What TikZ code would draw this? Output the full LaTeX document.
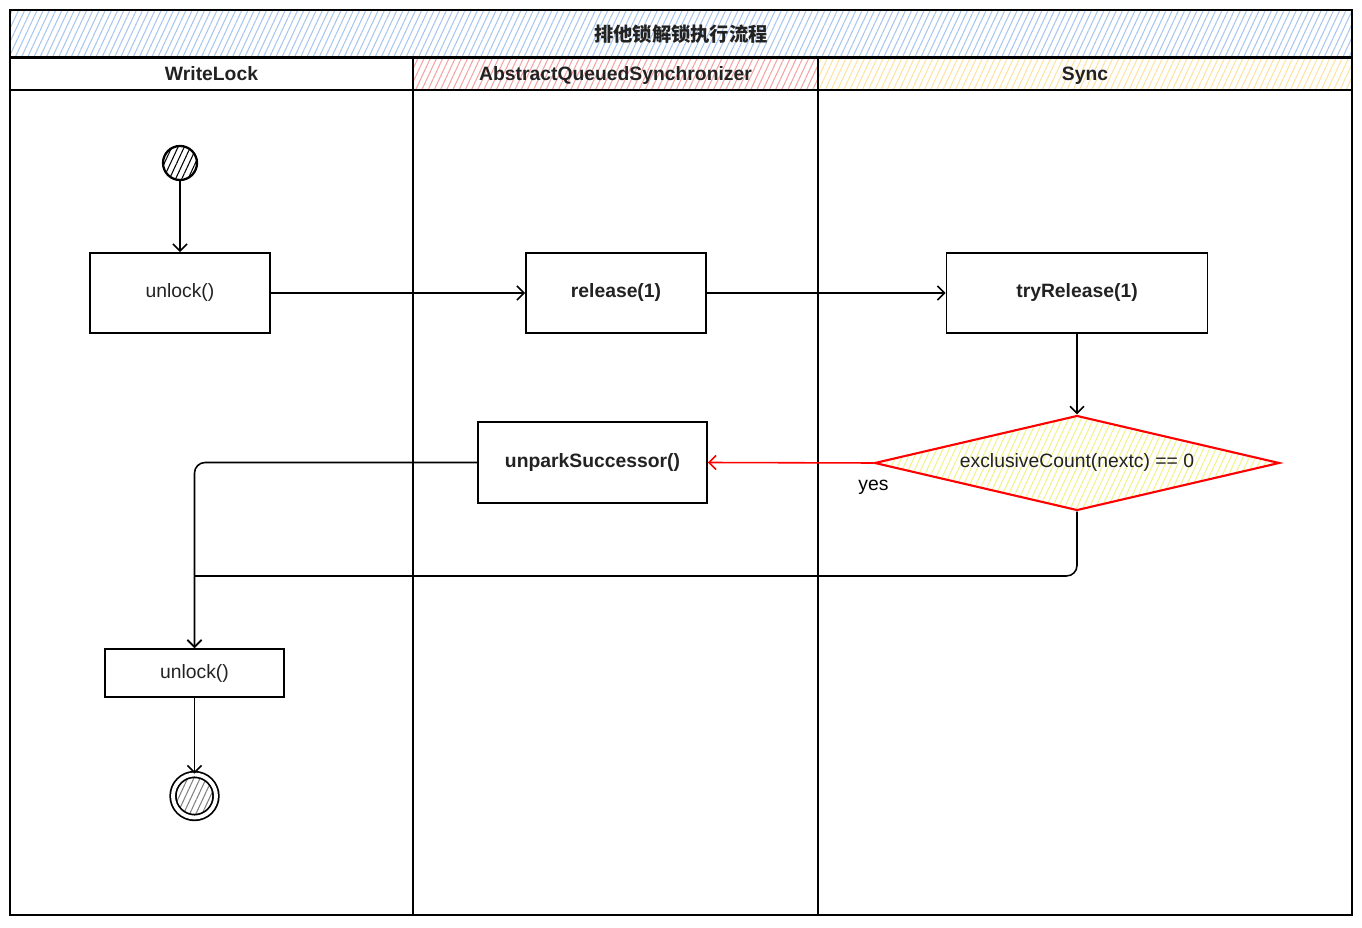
\documentclass[tikz,border=0pt]{standalone}
\usepackage{fontspec}
\setmainfont{Liberation Sans}
\newfontfamily\cjk{Noto Sans CJK SC}
\usetikzlibrary{shapes.geometric,positioning,arrows.meta,patterns.meta}
\definecolor{hblue}{HTML}{A9C6EE}
\definecolor{hred}{HTML}{F4A3A2}
\definecolor{hyel}{HTML}{FCE3A0}
\definecolor{dyel}{HTML}{F2F28A}
\definecolor{txt}{HTML}{222222}

\begin{document}
\begin{tikzpicture}[x=0.02cm,y=-0.02cm,
      >={Straight Barb[length=4pt,width=8pt]},
      every node/.style={font=\fontsize{11}{13}\selectfont,text=txt},
      lane/.style={rectangle,draw=black,line width=1.1pt,inner sep=0pt},
      head/.style={lane,minimum height=0.64cm,text depth=0pt,
                   font=\bfseries\fontsize{11}{13}\selectfont},
      hatch/.style={pattern={Lines[angle=65,distance=3.2pt,line width=0.6pt]},
                    pattern color=#1},
      act/.style={rectangle,draw=black,line width=1pt,minimum width=3.6cm,
                  minimum height=1.6cm},
      bold/.style={font=\bfseries\fontsize{11}{13}\selectfont},
      single/.style={draw,line width=0.9pt,->},
      yesflow/.style={draw=red,line width=0.9pt,->},
      merge/.style={draw,line width=0.9pt,rounded corners=6pt},
    ]
      \useasboundingbox (0,0) rectangle (1362,928);
      % swimlanes
      \node[lane,minimum width=8.06cm,minimum height=16.5cm] (lockbody) at (211.5,502.5) {};
      \node[lane,minimum width=8.1cm,minimum height=16.5cm] (aqsbody) at (615.5,502.5) {};
      \node[lane,minimum width=10.68cm,minimum height=16.5cm] (syncbody) at (1085,502.5) {};
      \node[head,minimum width=8.06cm] (lockhead) at (211.5,74) {WriteLock};
      \node[head,hatch=hred,minimum width=8.1cm] (aqshead) at (615.5,74) {AbstractQueuedSynchronizer};
      \node[head,hatch=hyel,minimum width=10.68cm] (synchead) at (1085,74) {Sync};
      \node[head,hatch=hblue,minimum width=26.84cm,minimum height=0.94cm,
            font=\cjk\bfseries\fontsize{11}{13}\selectfont] (title) at (681,33.5) {排他锁解锁执行流程};

      % activities
      \node[circle,draw=black,line width=1.3pt,minimum size=0.68cm,
            hatch=black] (start) at (180,163) {};
      \node[act] (unlock) at (180,293) {unlock()};
      \node[act,bold] (release) at (616,293) {release(1)};
      \node[act,bold,minimum width=5.22cm] (tryrel) at (1077,293) {tryRelease(1)};
      \node[diamond,aspect=4.26,draw=red,line width=1.2pt,hatch=dyel,inner sep=0pt,
            minimum width=8.1cm,minimum height=1.9cm] (count) at (1077,463)
            {exclusiveCount(nextc) == 0};
      \node[act,bold,minimum width=4.58cm,minimum height=1.62cm] (unpark) at (592.5,462.5) {unparkSuccessor()};
      \node[act,minimum width=3.58cm,minimum height=0.96cm] (unlockret) at (194.5,673) {unlock()};
      \node[circle,draw=black,line width=1pt,double,double distance=2.2pt,
            minimum size=0.86cm,hatch=gray] (finish) at (194.5,796) {};
      \coordinate (bend) at (194.5,576);

      % flows
      \path (start) edge[single] (unlock);
      \path (unlock) edge[single] (release);
      \path (release) edge[single] (tryrel);
      \path (tryrel) edge[single] (count);
      \path (count.west) edge[yesflow]
            node[pos=0,below=6pt,text=black] (yes) {yes} (unpark.east);
      \draw[merge,->] (unpark.west) -| (unlockret.north);
      \draw[merge] (count.south) |- (bend);
      \draw[single] (bend) -- (unlockret.north);
      \path (unlockret) edge[single] (finish);
    \end{tikzpicture}
\end{document}
